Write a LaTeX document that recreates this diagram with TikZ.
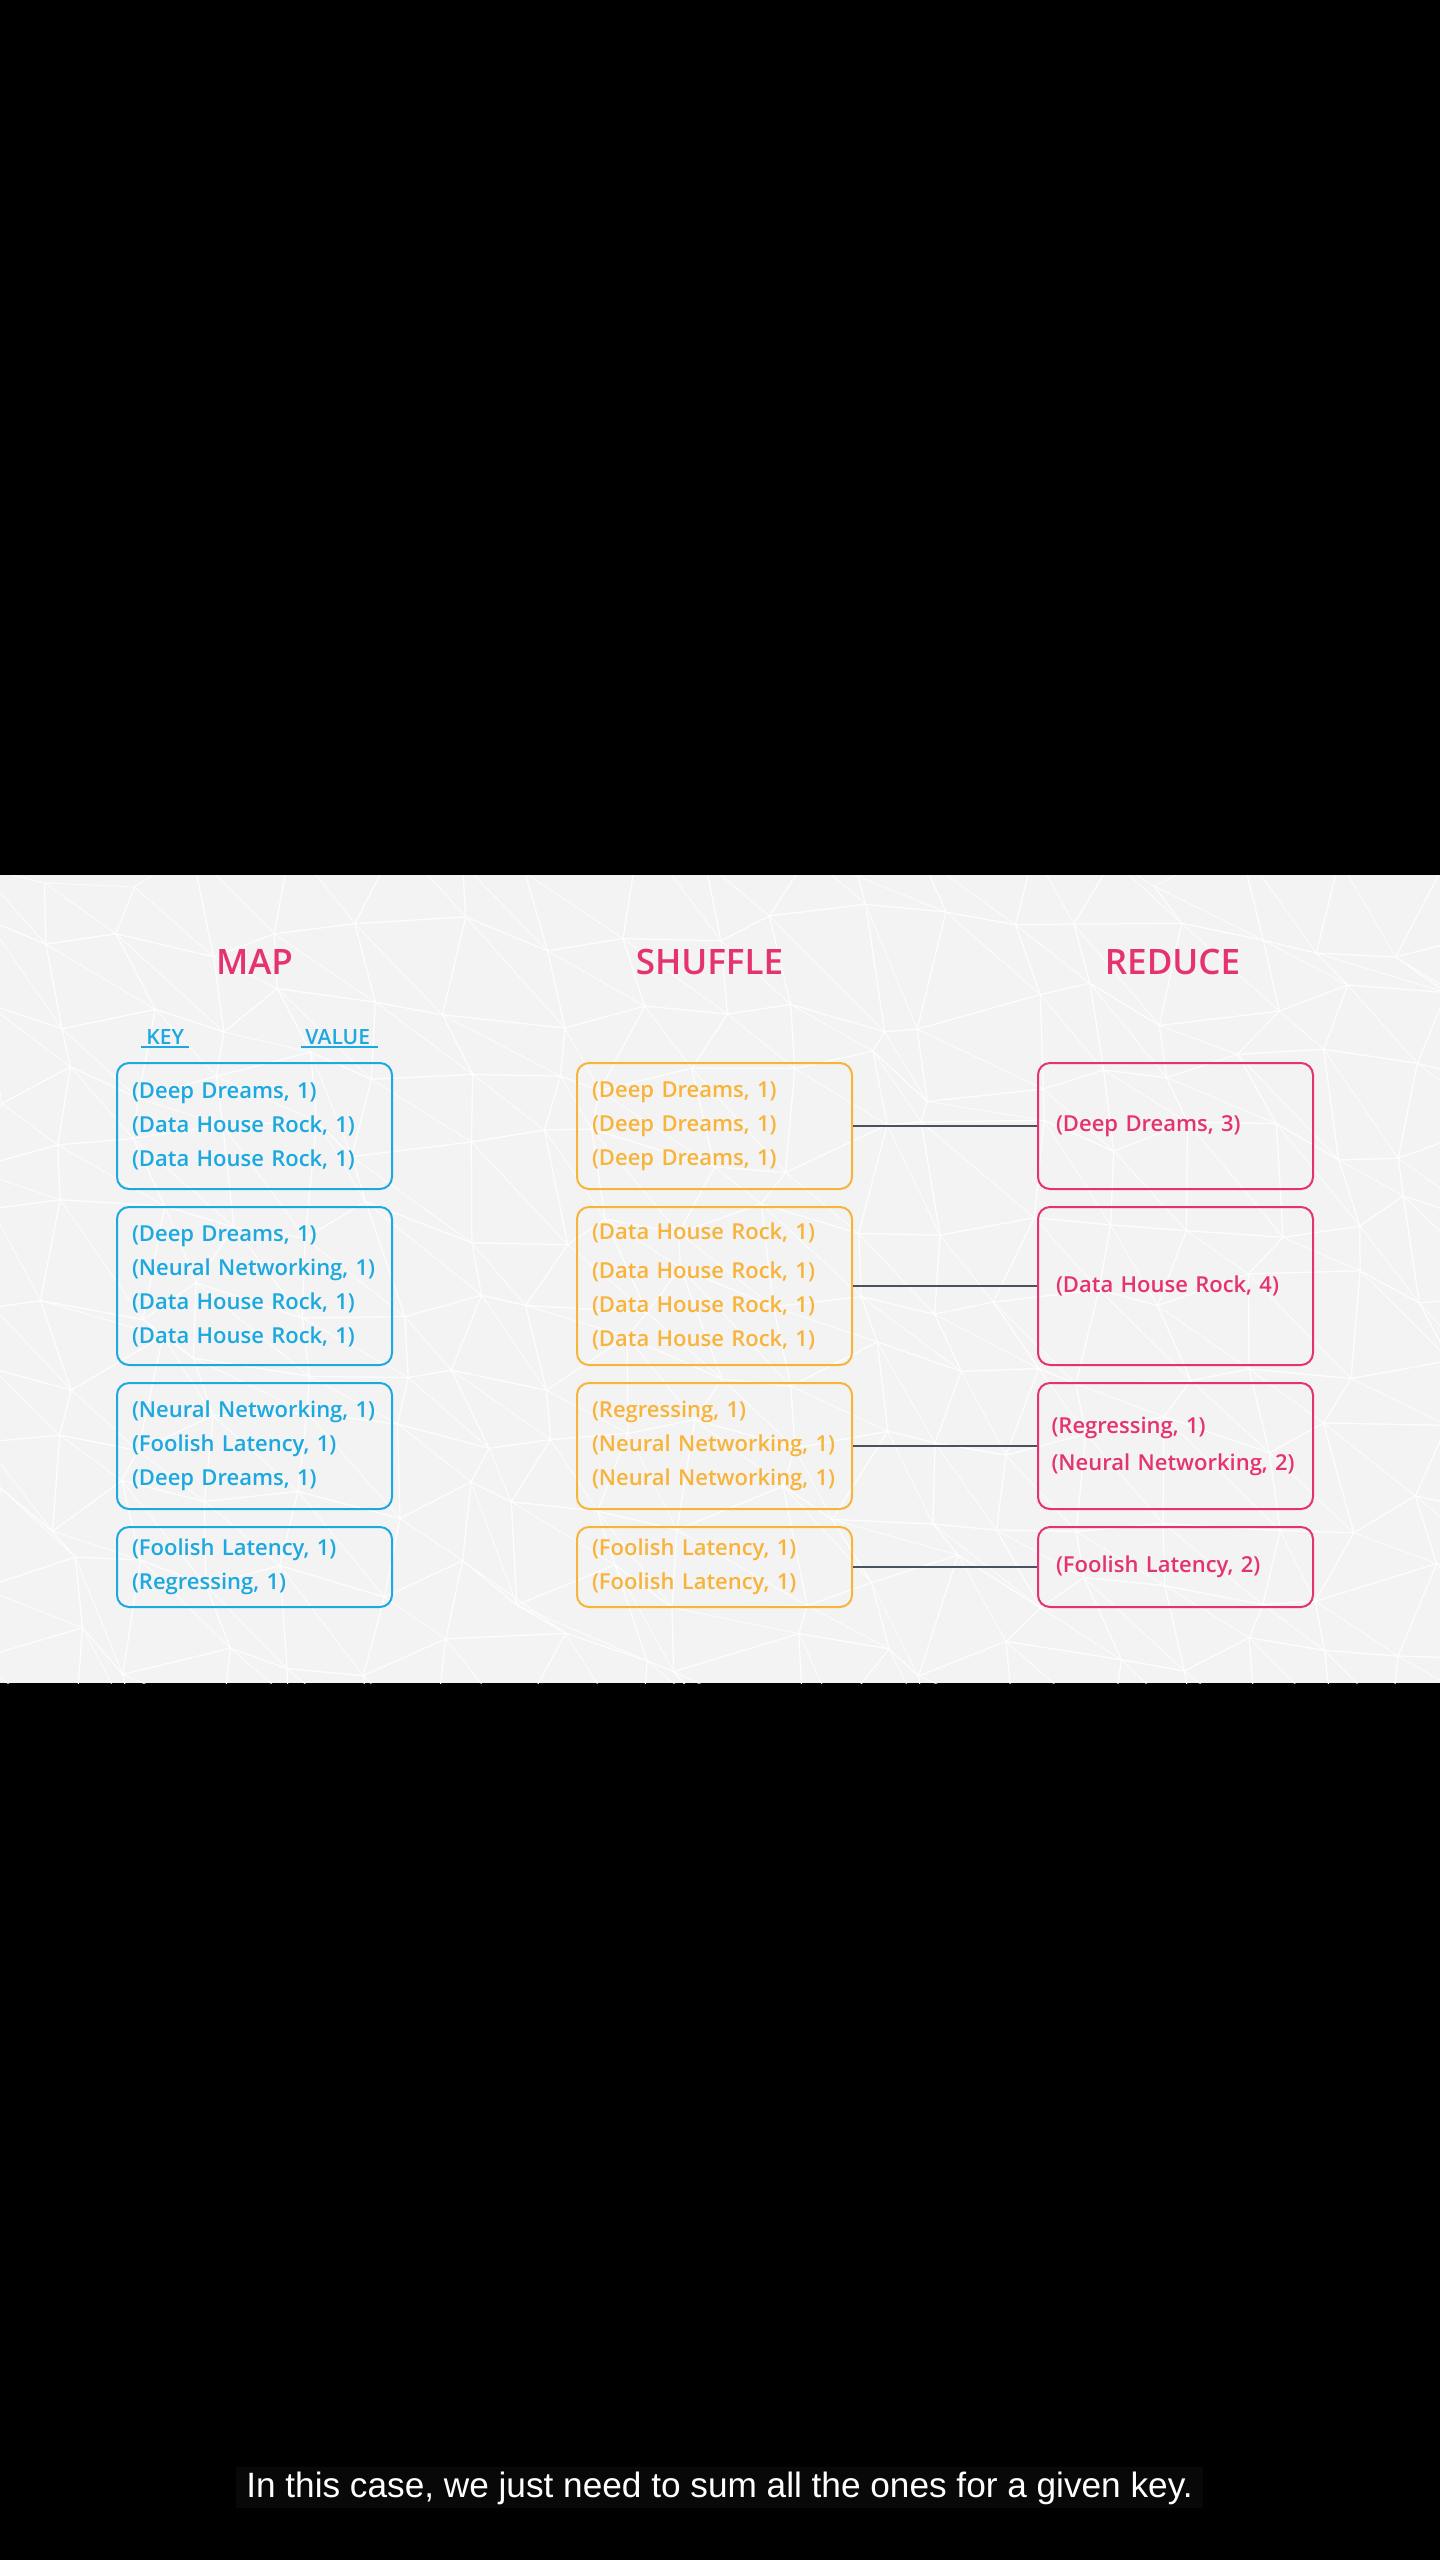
\documentclass[tikz,border=0pt]{standalone}
\usepackage{fontspec}
\usetikzlibrary{positioning}
\setmainfont{Open Sans}
\IfFontExistsTF{Open Sans SemiBold}{\newfontfamily\boxfont{Open Sans SemiBold}}{%
  \IfFontExistsTF{Open Sans Semibold}{\newfontfamily\boxfont{Open Sans Semibold}}{%
    \newfontfamily\boxfont{Open Sans}[FakeBold=1.2]}}
\newfontfamily\capfont{Liberation Sans}
\definecolor{mapblue}{HTML}{1BA9DF}
\definecolor{shuforange}{HTML}{F8B43A}
\definecolor{redpink}{HTML}{E5336F}
\definecolor{linkgray}{HTML}{4A5260}
\definecolor{bandgray}{HTML}{F3F3F4}
\definecolor{capbg}{HTML}{080808}

\begin{document}
\begin{tikzpicture}[x=0.5pt,y=-0.5pt,node distance=8pt,
  box/.style={draw,rounded corners=6pt,line width=1pt,minimum width=137.5pt,text width=122.5pt,inner xsep=7.5pt,align=left,font=\boxfont\fontsize{11}{17}\selectfont},
  map node/.style={box,draw=mapblue,text=mapblue},
  shuffle node/.style={box,draw=shuforange,text=shuforange},
  reduce node/.style={box,draw=redpink,text=redpink,inner xsep=9pt,text width=119.5pt},
  title/.style={text=redpink,font=\boxfont\fontsize{17.5}{20}\selectfont},
  head/.style={text=mapblue,inner xsep=2.5pt,inner ysep=0pt,font=\boxfont\fontsize{10.5}{12}\selectfont},
  link/.style={draw=linkgray,line width=0.9pt}]
\useasboundingbox (0,0) rectangle (1440,2560);
\fill[black] (0,0) rectangle (1440,2560);
\fill[bandgray] (0,875) rectangle (1440,1683);

% low poly mesh behind the diagram
\begin{scope}
\clip (0,875) rectangle (1440,1683);
\pgfmathsetseed{7}
\foreach \i in {0,...,19}
  \foreach \j in {0,...,12}{
    \pgfmathsetmacro\dx{rand*30}
    \pgfmathsetmacro\dy{rand*28}
    \coordinate (p-\i-\j) at (\i*80-20+\dx,860+\j*72+\dy);
  }
\foreach \i in {0,...,18}
  \foreach \j in {0,...,11}{
    \pgfmathtruncatemacro\ni{\i+1}
    \pgfmathtruncatemacro\nj{\j+1}
    \draw[white,line width=0.5pt,opacity=0.75] (p-\i-\j) -- (p-\ni-\j) -- (p-\ni-\nj) -- cycle;
    \draw[white,line width=0.5pt,opacity=0.75] (p-\i-\j) -- (p-\i-\nj) -- (p-\ni-\nj);
  }
\end{scope}

% map column
\node[map node,minimum height=63pt] (m1) at (254.5,1126) {(Deep Dreams, 1)\\(Data House Rock, 1)\\(Data House Rock, 1)};
\node[map node,minimum height=79pt] (m2) [below=of m1] {(Deep Dreams, 1)\\(Neural Networking, 1)\\(Data House Rock, 1)\\(Data House Rock, 1)};
\node[map node,minimum height=63pt] (m3) [below=of m2] {(Neural Networking, 1)\\(Foolish Latency, 1)\\(Deep Dreams, 1)};
\node[map node,minimum height=40pt] (m4) [below=of m3] {(Foolish Latency, 1)\\(Regressing, 1)};

% shuffle column
\node[shuffle node,minimum height=63pt] (s1) [right=91.5pt of m1] {(Deep Dreams, 1)\\(Deep Dreams, 1)\\(Deep Dreams, 1)};
\node[shuffle node,minimum height=79pt] (s2) [right=91.5pt of m2] {(Data House Rock, 1)\\[2.5pt](Data House Rock, 1)\\(Data House Rock, 1)\\(Data House Rock, 1)};
\node[shuffle node,minimum height=63pt] (s3) [right=91.5pt of m3] {(Regressing, 1)\\(Neural Networking, 1)\\(Neural Networking, 1)};
\node[shuffle node,minimum height=40pt] (s4) [right=91.5pt of m4] {(Foolish Latency, 1)\\(Foolish Latency, 1)};

% reduce column
\node[reduce node,minimum height=63pt] (r1) [right=92pt of s1] {(Deep Dreams, 3)};
\node[reduce node,minimum height=79pt] (r2) [right=92pt of s2] {(Data House Rock, 4)};
\node[reduce node,minimum height=63pt,inner xsep=6.75pt,text width=124pt] (r3) [right=92pt of s3] {(Regressing, 1)\\[1.5pt](Neural Networking, 2)};
\node[reduce node,minimum height=40pt] (r4) [right=92pt of s4] {(Foolish Latency, 2)};

\path[link] (s1) -- (r1) (s2) -- (r2) (s3) -- (r3) (s4) -- (r4);

% titles and headings
\node[title,anchor=base] (maptitle) at ([yshift=44pt]m1.north) {MAP};
\node[title,anchor=base] (shuffletitle) at ([xshift=-2.5pt,yshift=44pt]s1.north) {SHUFFLE};
\node[title,anchor=base] (reducetitle) at ([xshift=-1.5pt,yshift=44pt]r1.north) {REDUCE};
\node[head,anchor=base west] (key) at ([xshift=12.5pt,yshift=9pt]m1.north west) {KEY};
\node[head,anchor=base west,inner xsep=2pt] (value) at ([xshift=92.5pt,yshift=9pt]m1.north west) {VALUE\,};
\draw[mapblue,line width=1pt] ([yshift=-1.5pt]key.base west) -- ([yshift=-1.5pt]key.base east);
\draw[mapblue,line width=1pt] ([yshift=-1.5pt]value.base west) -- ([yshift=-1.5pt]value.base east);

% subtitle
\node[fill=capbg,text=white,inner xsep=5pt,inner ysep=2pt,text height=13pt,text depth=3.5pt,font=\capfont\fontsize{17.6}{20}\selectfont] (caption) at (719.5,2487.5) {In this case, we just need to sum all the ones for a given key.};
\end{tikzpicture}
\end{document}
